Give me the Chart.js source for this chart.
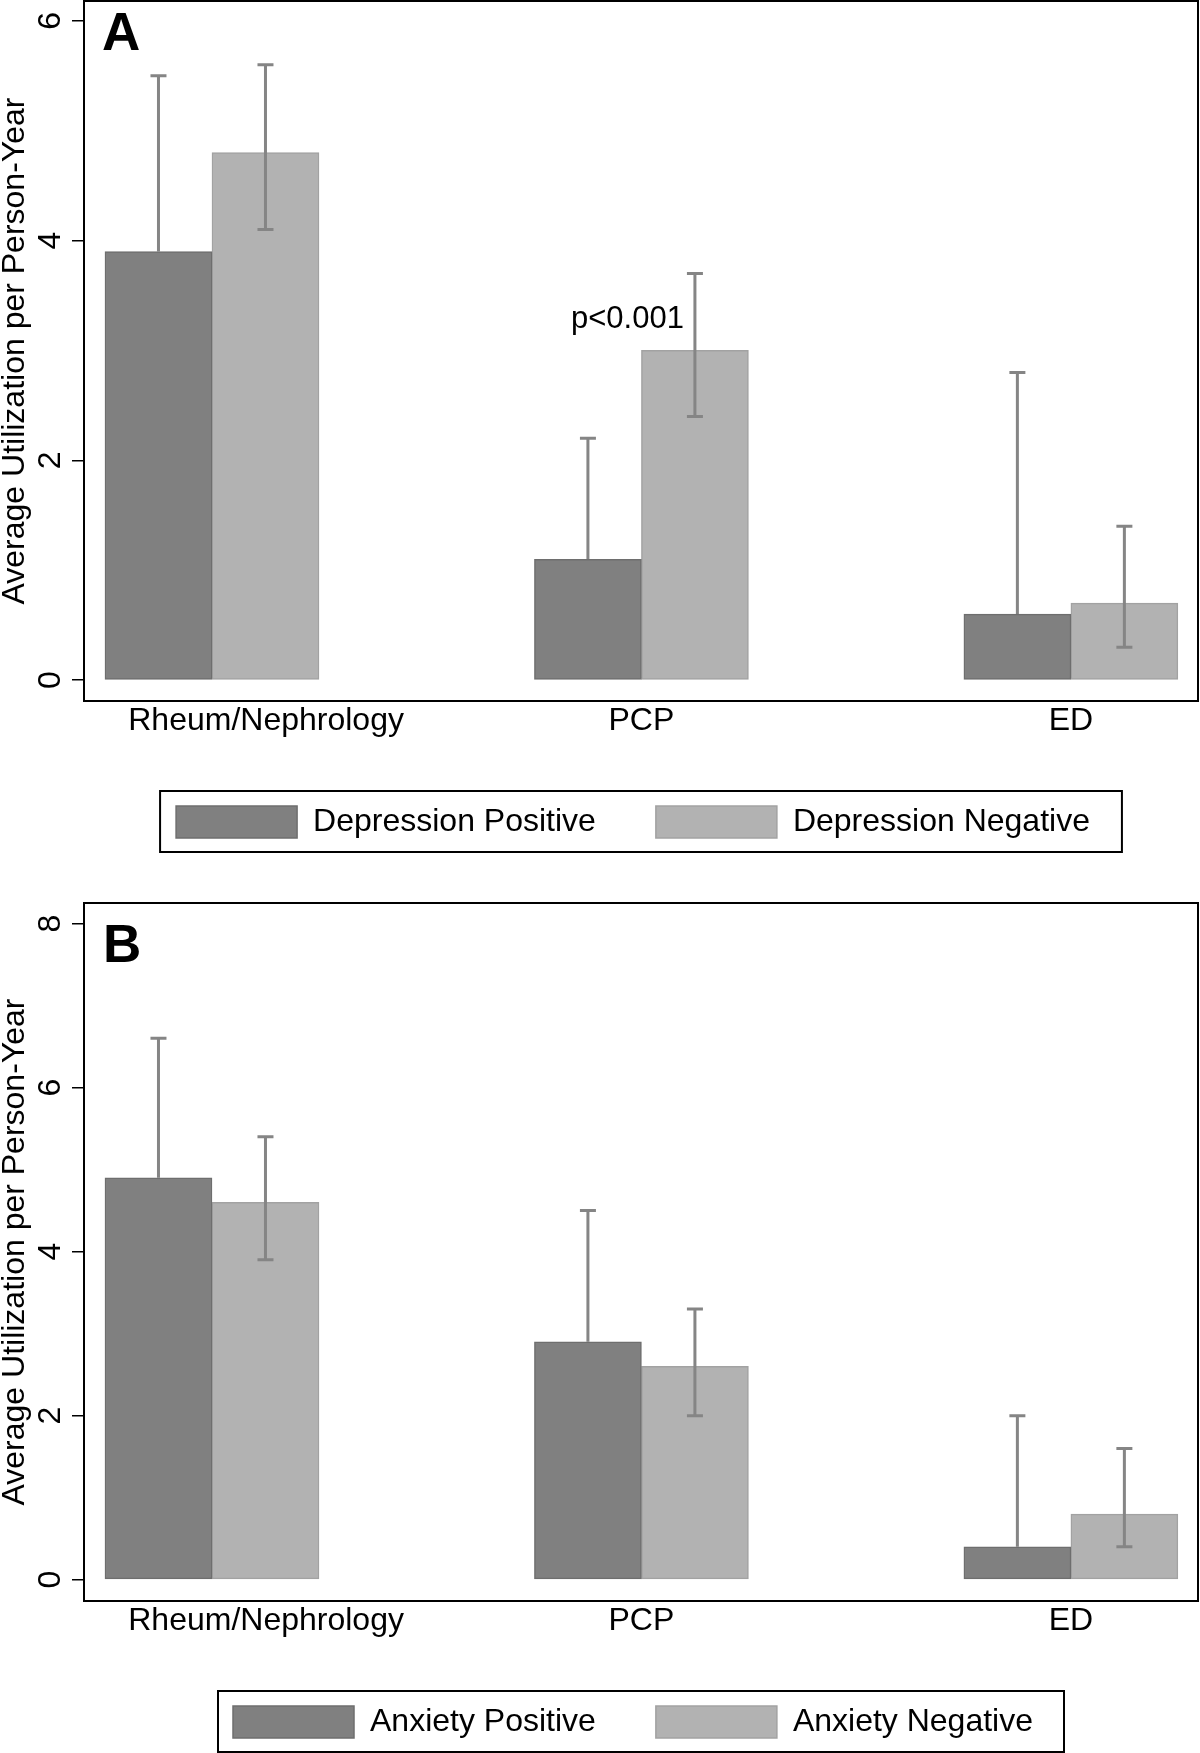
<!DOCTYPE html>
<html lang="en">
<head>
<meta charset="UTF-8" />
<title>Average utilization per person-year</title>
<script src="https://cdn.jsdelivr.net/npm/chart.js@4.4.0/dist/chart.umd.min.js"></script>
<style>
  html, body { margin: 0; padding: 0; background: #fff; }
  .panel { position: absolute; left: 0; width: 1200px; }
  #panelA { top: 0; height: 856px; }
  #panelB { top: 856px; height: 897px; }
</style>
</head>
<body>
<div class="panel" id="panelA"><canvas id="chartA"></canvas></div>
<div class="panel" id="panelB"><canvas id="chartB"></canvas></div>

<script>
// ── data ────────────────────────────────────────────────
const categories  = ['Rheum/Nephrology', 'PCP', 'ED'];
const categoryPos = [0, 1, 2];
const labelPos    = [0.126, 1, 2];      // where the category names sit (first one is nudged right)

// A: depression
const depLabels = ['Depression Positive', 'Depression Negative'];
const depPos    = [3.9, 1.1, 0.6];
const depPosHi  = [5.5, 2.2, 2.8];
const depPosLo  = [null, null, null];   // hidden behind the bars
const depNeg    = [4.8, 3.0, 0.7];
const depNegLo  = [4.1, 2.4, 0.3];
const depNegHi  = [5.6, 3.7, 1.4];
const yTicksA   = [0, 2, 4, 6];

// B: anxiety
const anxLabels = ['Anxiety Positive', 'Anxiety Negative'];
const anxPos    = [4.9, 2.9, 0.4];
const anxPosHi  = [6.6, 4.5, 2.0];
const anxPosLo  = [null, null, null];
const anxNeg    = [4.6, 2.6, 0.8];
const anxNegLo  = [3.9, 2.0, 0.4];
const anxNegHi  = [5.4, 3.3, 1.6];
const yTicksB   = [0, 2, 4, 6, 8];

const yTitle = 'Average Utilization per Person-Year';

// ── styles ──────────────────────────────────────────────
const DARK = '#808080', DARK_EDGE = '#6e6e6e';
const LIGHT = '#b2b2b2', LIGHT_EDGE = '#a2a2a2';
const WHISKER = '#858585';

Chart.defaults.font.family = '"Liberation Sans", Arial, Helvetica, sans-serif';
Chart.defaults.font.size = 32;
Chart.defaults.color = '#000';

// whiskers: dark series drawn under its bars, light series on top
function drawWhiskers(chart, i) {
  const ds = chart.data.datasets[i];
  const meta = chart.getDatasetMeta(i);
  const ys = chart.scales.y;
  const ctx = chart.ctx;
  ctx.save();
  ctx.strokeStyle = WHISKER;
  ctx.lineWidth = 3;
  meta.data.forEach((bar, j) => {
    const lo = ds.errLo[j] == null ? ds.data[j].y : ds.errLo[j];
    const yLo = ys.getPixelForValue(lo);
    const yHi = ys.getPixelForValue(ds.errHi[j]);
    ctx.beginPath();
    ctx.moveTo(bar.x, yLo); ctx.lineTo(bar.x, yHi);
    ctx.moveTo(bar.x - 8, yHi); ctx.lineTo(bar.x + 8, yHi);
    if (ds.errLo[j] != null) { ctx.moveTo(bar.x - 8, yLo); ctx.lineTo(bar.x + 8, yLo); }
    ctx.stroke();
  });
  ctx.restore();
}

const whiskerPlugin = {
  id: 'whiskers',
  beforeDatasetDraw(chart, args) { if (args.index === 0) drawWhiskers(chart, 0); },
  afterDatasetDraw(chart, args) { if (args.index === 1) drawWhiskers(chart, 1); }
};

// frame, panel letter, notes, legend box
const decorPlugin = {
  id: 'decor',
  afterLayout(chart) {
    // legend items sit a little left of the plot centre in the original
    chart.legend.left -= 8;
    chart.legend.right -= 8;
  },
  afterDraw(chart, args, opts) {
    const {ctx, chartArea: ca} = chart;
    ctx.save();
    ctx.strokeStyle = '#000';
    ctx.lineWidth = 2;
    ctx.strokeRect(ca.left, ca.top, ca.right - ca.left, ca.bottom - ca.top);

    ctx.fillStyle = '#000';
    ctx.font = 'bold 53px "Liberation Sans", Arial, sans-serif';
    ctx.textAlign = 'left';
    ctx.textBaseline = 'alphabetic';
    ctx.fillText(opts.letter, ca.left + opts.letterDx, ca.top + opts.letterDy);

    (opts.notes || []).forEach(n => {
      ctx.font = '31px "Liberation Sans", Arial, sans-serif';
      ctx.textAlign = 'center';
      ctx.fillText(n.text, chart.scales.x.getPixelForValue(n.x) + n.dx, chart.scales.y.getPixelForValue(n.y));
    });

    // border round the legend, centred under the plot
    const hb = chart.legend.legendHitBoxes;
    const l = Math.min(...hb.map(h => h.left));
    const r = Math.max(...hb.map(h => h.left + h.width));
    const cx = (ca.left + ca.right) / 2, half = (r - l) / 2 + opts.boxPad;
    const t = hb[0].top - 15, b = hb[0].top + hb[0].height + 14;
    ctx.lineWidth = 2;
    ctx.strokeRect(cx - half, t, half * 2, b - t);
    ctx.restore();
  }
};

function makePanel(canvasId, labels, posV, posLo, posHi, negV, negLo, negHi, yTicks, yMin, yMax, decor, pad) {
  const pts = v => v.map((y, i) => ({x: categoryPos[i], y}));
  return new Chart(document.getElementById(canvasId), {
    type: 'bar',
    data: {
      datasets: [
        { label: labels[0], data: pts(posV), errLo: posLo, errHi: posHi,
          backgroundColor: DARK, borderColor: DARK_EDGE, borderWidth: 1.5, borderSkipped: false,
          barThickness: 107 },
        { label: labels[1], data: pts(negV), errLo: negLo, errHi: negHi,
          backgroundColor: LIGHT, borderColor: LIGHT_EDGE, borderWidth: 1.5, borderSkipped: false,
          barThickness: 107 }
      ]
    },
    options: {
      responsive: true,
      maintainAspectRatio: false,
      animation: false,
      layout: { padding: pad },
      scales: {
        x: {
          type: 'linear', offset: false,
          min: -0.298, max: 2.296,
          afterBuildTicks: s => { s.ticks = labelPos.map(v => ({value: v})); },
          afterFit: s => { s.height = 45; s.paddingLeft = 0; s.paddingRight = 0; },
          grid: { display: false, drawTicks: false },
          border: { display: false },
          ticks: { padding: 1, autoSkip: false, maxRotation: 0,
                   callback: (v, i) => categories[i] }
        },
        y: {
          min: yMin, max: yMax,
          afterBuildTicks: s => { s.ticks = yTicks.map(v => ({value: v})); },
          afterFit: s => { s.width = 84; s.paddingTop = 0; s.paddingBottom = 0; },
          grid: { drawOnChartArea: false, drawTicks: true, tickLength: 12, color: '#000', lineWidth: 1.5 },
          border: { display: false },
          ticks: { minRotation: 90, maxRotation: 90, crossAlign: 'center', padding: 12 },
          title: { display: true, text: yTitle, font: { size: 32, lineHeight: 0.95 }, padding: 0 }
        }
      },
      plugins: {
        tooltip: { enabled: false },
        legend: {
          position: 'bottom', fullSize: false,
          labels: { boxWidth: 121, boxHeight: 32, padding: 60, font: { size: 32 } }
        },
        decor: decor
      }
    },
    plugins: [whiskerPlugin, decorPlugin]
  });
}

makePanel('chartA', depLabels, depPos, depPosLo, depPosHi, depNeg, depNegLo, depNegHi,
  yTicksA, -0.19, 6.18,
  { letter: 'A', letterDx: 18, letterDy: 49, boxPad: 24,
    notes: [{ text: 'p<0.001', x: 1, y: 3.2, dx: -14 }] },
  { top: 1, right: 2, bottom: 8, left: 0 });

makePanel('chartB', anxLabels, anxPos, anxPosLo, anxPosHi, anxNeg, anxNegLo, anxNegHi,
  yTicksB, -0.26, 8.25,
  { letter: 'B', letterDx: 19, letterDy: 59, boxPad: 23, notes: [] },
  { top: 47, right: 2, bottom: 5, left: 0 });
</script>
</body>
</html>
